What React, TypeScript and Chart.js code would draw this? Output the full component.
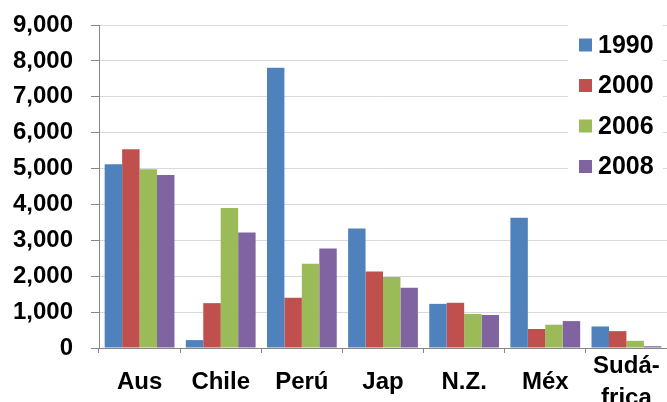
import { useEffect, useRef } from 'react';
import { Chart, registerables } from 'chart.js';

Chart.register(...registerables);

const categories: (string | string[])[] = ['Aus', 'Chile', 'Perú', 'Jap', 'N.Z.', 'Méx', ['Sudá-', 'frica']];
const seriesLabels = ['1990', '2000', '2006', '2008'];
const values1990 = [5120, 220, 7810, 3330, 1230, 3630, 600];
const values2000 = [5540, 1250, 1400, 2130, 1260, 530, 470];
const values2006 = [4980, 3900, 2350, 1980, 950, 650, 200];
const values2008 = [4820, 3220, 2770, 1680, 920, 750, 50];
const seriesColors = ['#4F81BD', '#C0504D', '#9BBB59', '#8064A2'];
const yMax = 9000;
const yStep = 1000;

const FONT = '"Liberation Sans", Arial, sans-serif';

const sideLegend = {
  id: 'sideLegend',
  afterDraw(chart: any) {
    const ctx = chart.ctx;
    const area = chart.chartArea;
    ctx.save();
    ctx.fillStyle = '#ffffff';
    ctx.fillRect(568, area.top - 4, 95, 164);
    ctx.font = `bold 25px ${FONT}`;
    ctx.textBaseline = 'middle';
    ctx.textAlign = 'left';
    chart.data.datasets.forEach((ds: any, i: number) => {
      const cy = area.top + 20 + i * 40.5;
      ctx.fillStyle = ds.backgroundColor;
      ctx.fillRect(579, cy - 6.5, 13, 13);
      ctx.fillStyle = '#000000';
      ctx.fillText(ds.label, 598, cy + 1);
    });
    ctx.restore();
  },
};

export default function App() {
  const ref = useRef<HTMLCanvasElement>(null);

  useEffect(() => {
    document.body.style.margin = '0';
    const allValues = [values1990, values2000, values2006, values2008];
    const chart = new Chart(ref.current!, {
      type: 'bar',
      data: {
        labels: categories,
        datasets: seriesLabels.map((label, i) => ({
          label,
          data: allValues[i],
          backgroundColor: seriesColors[i],
          borderWidth: 0,
          categoryPercentage: 0.86,
          barPercentage: 1,
        })),
      },
      options: {
        animation: false,
        responsive: true,
        maintainAspectRatio: false,
        layout: { padding: { top: 25, right: 0, left: 0, bottom: 0 } },
        plugins: {
          legend: { display: false },
          tooltip: { enabled: false },
        },
        scales: {
          x: {
            afterFit(scale: any) {
              scale.height = 54;
              scale.paddingLeft = 0;
              scale.paddingRight = 0;
            },
            grid: {
              drawOnChartArea: false,
              drawTicks: true,
              tickLength: 5,
              color: '#868686',
            },
            border: { color: '#868686', width: 1 },
            ticks: {
              autoSkip: false,
              maxRotation: 0,
              minRotation: 0,
              padding: 13,
              crossAlign: 'center',
              color: '#000000',
              font: { family: FONT, size: 24, weight: 'bold', lineHeight: 1.35 },
            },
          },
          y: {
            min: 0,
            max: yMax,
            afterFit(scale: any) {
              scale.width = 99;
              scale.paddingTop = 0;
              scale.paddingBottom = 0;
            },
            grid: {
              color: '#D9D9D9',
              tickColor: '#868686',
              tickLength: 8,
            },
            border: { color: '#868686', width: 1 },
            ticks: {
              stepSize: yStep,
              padding: 18,
              color: '#000000',
              font: { family: FONT, size: 24, weight: 'bold' },
              callback: (v: any) => Number(v).toLocaleString('en-US'),
            },
          },
        },
      },
      plugins: [sideLegend],
    });
    return () => chart.destroy();
  }, []);

  return (
    <div style={{ width: 667, height: 402, position: 'relative' }}>
      <canvas ref={ref} />
    </div>
  );
}
